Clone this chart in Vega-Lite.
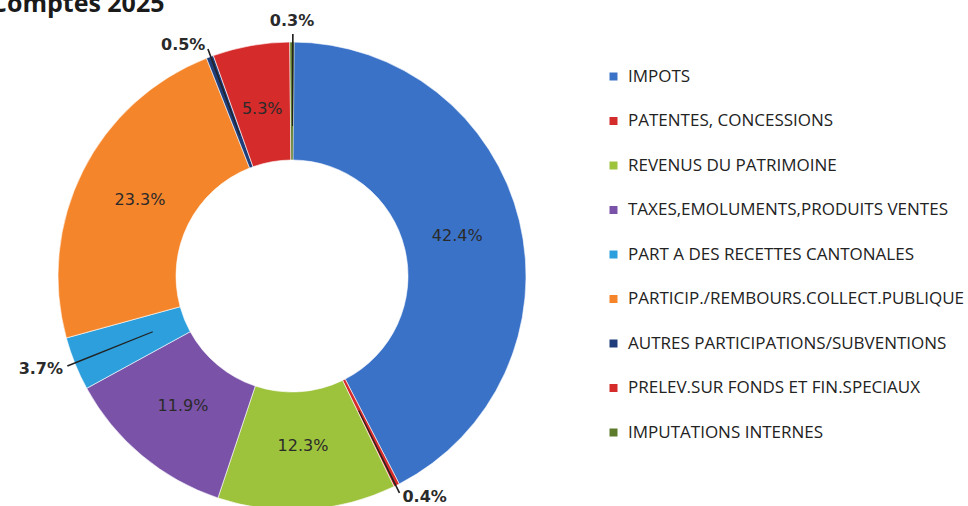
{
  "$schema": "https://vega.github.io/schema/vega-lite/v6.json",
  "width": 584,
  "height": 552,
  "autosize": {"type": "none"},
  "padding": {"left": 0, "top": 0, "right": 384, "bottom": 0},
  "background": "white",
  "config": {"view": {"stroke": null}},
  "title": {"text": "Comptes 2025", "anchor": "start", "dx": -9, "offset": -17, "fontSize": 25, "font": "Open Sans", "fontWeight": "bold", "color": "#1a1a1a"},
  "data": {"values": [
    {"cat": "IMPOTS", "pct": 42.4, "label": "42.4%", "order": 1},
    {"cat": "PATENTES, CONCESSIONS", "pct": 0.4, "label": "0.4%", "order": 2},
    {"cat": "REVENUS DU PATRIMOINE", "pct": 12.3, "label": "12.3%", "order": 3},
    {"cat": "TAXES,EMOLUMENTS,PRODUITS VENTES", "pct": 11.9, "label": "11.9%", "order": 4},
    {"cat": "PART A DES RECETTES CANTONALES", "pct": 3.7, "label": "3.7%", "order": 5},
    {"cat": "PARTICIP./REMBOURS.COLLECT.PUBLIQUE", "pct": 23.3, "label": "23.3%", "order": 6},
    {"cat": "AUTRES PARTICIPATIONS/SUBVENTIONS", "pct": 0.5, "label": "0.5%", "order": 7},
    {"cat": "PRELEV.SUR FONDS ET FIN.SPECIAUX", "pct": 5.3, "label": "5.3%", "order": 8},
    {"cat": "IMPUTATIONS INTERNES", "pct": 0.3, "label": "0.3%", "order": 9}
  ]},
  "transform": [
    {"stack": "pct", "groupby": [], "sort": [{"field": "order", "order": "ascending"}], "as": ["s0", "s1"]},
    {"calculate": "(datum.s0 + datum.s1) / 2", "as": "mid"}
  ],
  "layer": [
    {
      "mark": {"type": "arc", "innerRadius": 116, "outerRadius": 234, "stroke": "white", "strokeWidth": 0.6},
      "encoding": {
        "theta": {"field": "s0", "type": "quantitative"},
        "theta2": {"field": "s1"},
        "color": {
          "field": "cat", "type": "nominal",
          "scale": {
            "domain": ["IMPOTS", "PATENTES, CONCESSIONS", "REVENUS DU PATRIMOINE", "TAXES,EMOLUMENTS,PRODUITS VENTES", "PART A DES RECETTES CANTONALES", "PARTICIP./REMBOURS.COLLECT.PUBLIQUE", "AUTRES PARTICIPATIONS/SUBVENTIONS", "PRELEV.SUR FONDS ET FIN.SPECIAUX", "IMPUTATIONS INTERNES"],
            "range": ["#3a72c8", "#d42b2b", "#9dc23c", "#7a52a8", "#2d9fdc", "#f5852a", "#1f3d7a", "#d52b2b", "#5e7b2c"]
          },
          "legend": {
            "orient": "none", "legendX": 605, "legendY": 68, "title": null,
            "symbolType": "square", "symbolSize": 64, "symbolStrokeWidth": 0,
            "labelFont": "Open Sans", "labelFontSize": 17, "labelColor": "#222222",
            "rowPadding": 26.5, "labelOffset": 6, "labelLimit": 400
          }
        }
      }
    },
    {
      "transform": [{"filter": "datum.pct < 5"}],
      "mark": {"type": "arc", "radius": 242, "radius2": 150, "theta2Offset": 0.007, "color": "#222222"},
      "encoding": {
        "theta": {"field": "mid", "type": "quantitative"},
        "theta2": {"field": "mid"}
      }
    },
    {
      "transform": [{"filter": "datum.pct >= 5"}],
      "mark": {"type": "text", "radius": 170, "font": "DejaVu Sans", "fontSize": 16, "color": "#2a2a2a"},
      "encoding": {
        "theta": {"field": "mid", "type": "quantitative"},
        "text": {"field": "label"}
      }
    },
    {
      "transform": [{"filter": "datum.pct < 5"}],
      "mark": {"type": "text", "radius": 247, "font": "DejaVu Sans", "fontSize": 16, "fontWeight": "bold", "color": "#2a2a2a",
        "align": {"expr": "datum.mid > 98 ? 'center' : (datum.mid < 50 ? 'left' : 'right')"},
        "baseline": {"expr": "datum.mid > 98 ? 'bottom' : 'middle'"}},
      "encoding": {
        "theta": {"field": "mid", "type": "quantitative"},
        "text": {"field": "label"}
      }
    }
  ]
}
